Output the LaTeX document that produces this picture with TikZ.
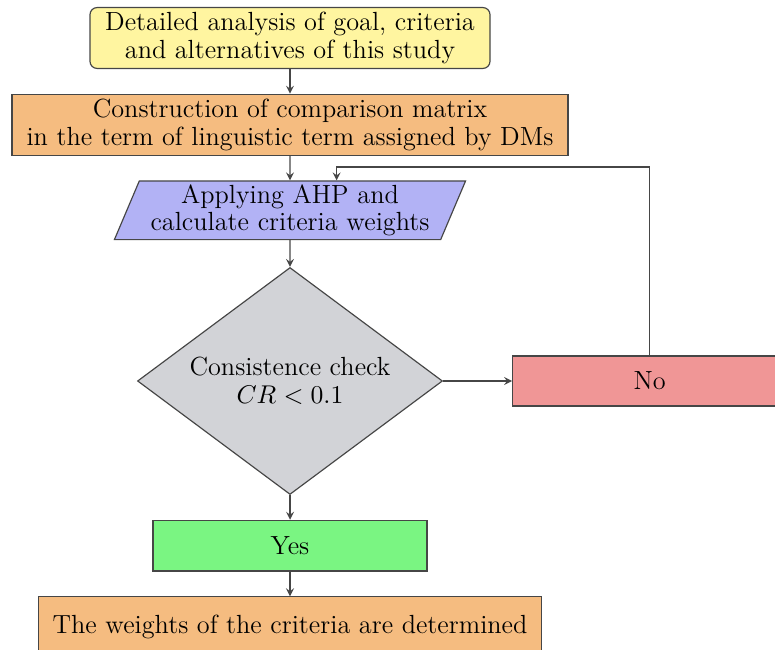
\documentclass[tikz,border=0pt]{standalone}
\usetikzlibrary{positioning,shapes.geometric}
\definecolor{goalyellow}{RGB}{255,245,160}
\definecolor{steporange}{RGB}{245,188,128}
\definecolor{ahpblue}{RGB}{178,178,245}
\definecolor{checkgray}{RGB}{210,211,215}
\definecolor{nored}{RGB}{240,150,150}
\definecolor{yesgreen}{RGB}{122,245,130}
\definecolor{linegray}{RGB}{70,70,70}
\begin{document}
\begin{tikzpicture}[node distance=0.37cm, font=\fontsize{11.2}{11.8}\selectfont]
    % Style definition for the flow chart
    \tikzset{box/.style={rectangle, draw=linegray, line width=0.5pt, align=center, inner sep=2pt},
             io/.style={trapezium, trapezium left angle=67, trapezium right angle=113,
             draw=linegray, line width=0.5pt, align=center, inner sep=1pt, inner xsep=0pt},
             decision/.style={diamond, draw=linegray, line width=0.5pt, align=center, shape aspect=1.34,
             minimum width=4.575cm, minimum height=3.405cm, inner sep=0pt}}
    \tikzstyle{arrow} = [line width=0.5pt,draw=linegray,->,>=stealth]

    \useasboundingbox (0,0) rectangle (11.625,-9.75);

    % Main boxes
    \node (goal) [box, rounded corners=3pt, fill=goalyellow, minimum width=6cm, minimum height=0.9cm]
        at (4.35,-0.57) {Detailed analysis of goal, criteria\\and alternatives of this study};
    \node (matrix) [box, fill=steporange, minimum width=8.34cm, minimum height=0.9cm, below=of goal]
        {Construction of comparison matrix\\in the term of linguistic term assigned by DMs};
    \node (ahp) [io, fill=ahpblue, minimum height=0.88cm, text width=4.35cm, below=of matrix]
        {Applying AHP and\\calculate criteria weights};
    \node (check) [decision, fill=checkgray, below=0.4cm of ahp]
        {Consistence check\\$CR<0.1$};
    \node (no) [box, fill=nored, minimum width=4.11cm, minimum height=0.75cm, right=1.035cm of check] {No};
    \node (yes) [box, fill=yesgreen, minimum width=4.11cm, minimum height=0.76cm, below=of check] {Yes};
    \node (result) [box, fill=steporange, minimum width=7.545cm, minimum height=0.9cm, below=of yes]
        {The weights of the criteria are determined};

    % Loop back point
    \coordinate (back) at ([xshift=0.7cm,yshift=0.2cm]ahp.north);

    % Arrows
    \draw [arrow] (goal) -- (matrix);
    \draw [arrow] (matrix) -- (ahp);
    \draw [arrow] (ahp) -- (check);
    \draw [arrow] (check) -- (no);
    \draw [arrow] (check) -- (yes);
    \draw [arrow] (yes) -- (result);
    \draw [arrow] (no.north) |- (back) -- (back |- ahp.north);

\end{tikzpicture}
\end{document}
